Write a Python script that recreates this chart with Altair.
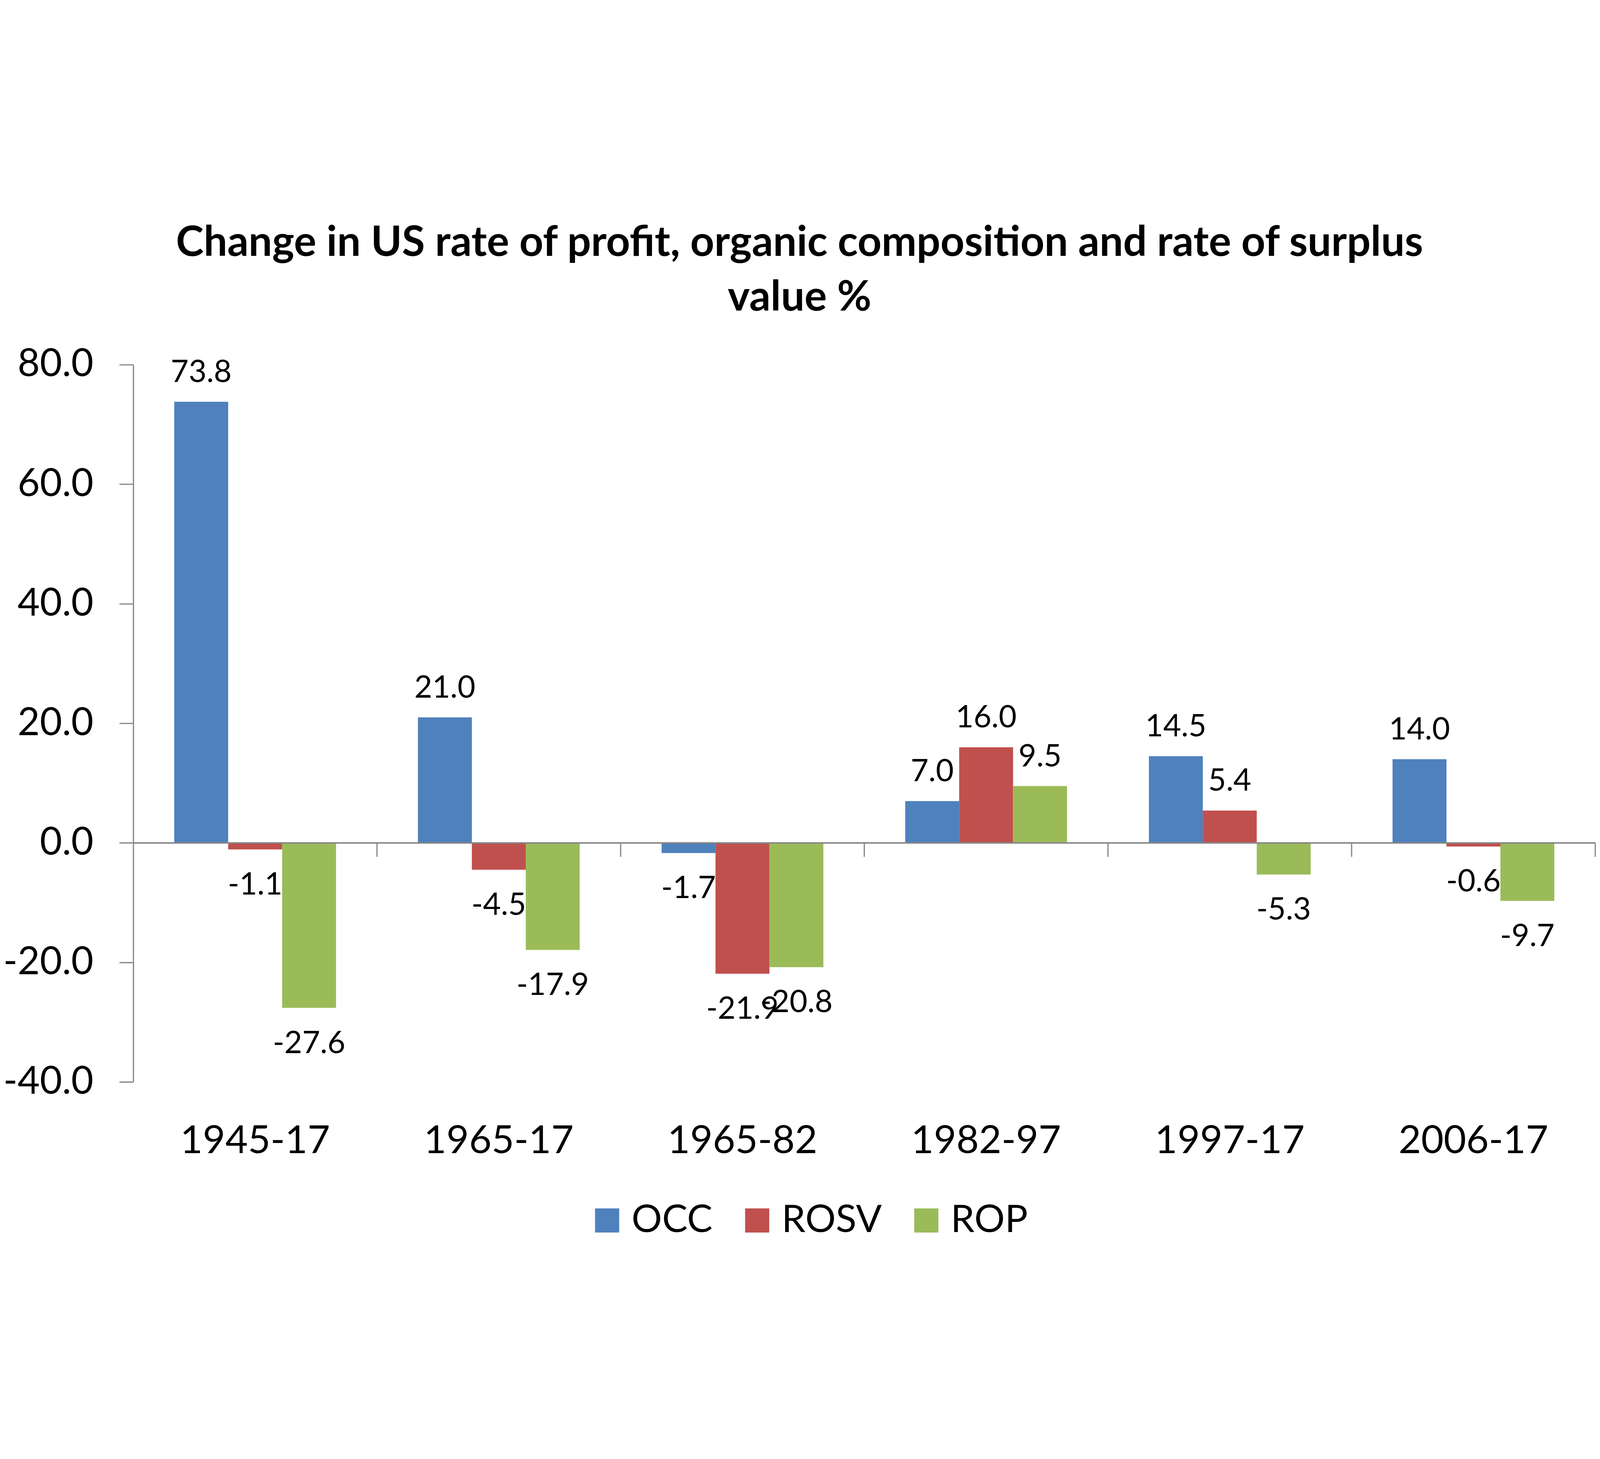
import altair as alt
import pandas as pd

periods = ["1945-17", "1965-17", "1965-82", "1982-97", "1997-17", "2006-17"]
series = ["OCC", "ROSV", "ROP"]
occ = [73.8, 21.0, -1.7, 7.0, 14.5, 14.0]
rosv = [-1.1, -4.5, -21.9, 16.0, 5.4, -0.6]
rop = [-27.6, -17.9, -20.8, 9.5, -5.3, -9.7]
colors = ["#4F81BD", "#C0504D", "#9BBB59"]
y_ticks = [-40, -20, 0, 20, 40, 60, 80]
title_lines = ["Change in US rate of profit, organic composition and rate of surplus", "value %"]

rows = []
for s, vals in zip(series, [occ, rosv, rop]):
    for p, v in zip(periods, vals):
        rows.append({"period": p, "series": s, "value": v, "label": f"{v:.1f}"})
df = pd.DataFrame(rows)
period_df = pd.DataFrame({"period": periods})

FONT = "Lato"
GRAY = "#868686"
W, H = 5446, 2672
PAD_INNER, PAD_OUTER = 0.336, 0.168
tick_shift = PAD_INNER * (W / len(periods)) / 2

x_scale = alt.Scale(paddingInner=PAD_INNER, paddingOuter=PAD_OUTER)
xoff = alt.XOffset("series:N", sort=series, scale=alt.Scale(paddingInner=0, paddingOuter=0))
y_scale = alt.Scale(domain=[-40, 80], nice=False)
x_axis = alt.Axis(title=None, domain=False, ticks=False, tickSize=0, labelAngle=0, labelLimit=0,
                  labelPadding=149, labelFontSize=145, labelFont=FONT, labelColor="black")

base = alt.Chart(df)

bars = base.mark_bar().encode(
    x=alt.X("period:N", sort=periods, scale=x_scale, axis=x_axis),
    xOffset=xoff,
    y=alt.Y("value:Q", scale=y_scale,
            axis=alt.Axis(title=None, values=y_ticks, grid=False, labelLimit=0,
                          labelExpr="(datum.value < 0 ? '-' : '') + format(abs(datum.value), '.1f')",
                          domainColor=GRAY, domainWidth=4.5, tickColor=GRAY, tickWidth=4.5, tickSize=52,
                          labelPadding=97, labelFontSize=143, labelFont=FONT, labelColor="black")),
    color=alt.Color("series:N", sort=series, scale=alt.Scale(domain=series, range=colors),
                    legend=alt.Legend(title=None, orient="none", direction="horizontal",
                                      legendX=1694, legendY=3117, padding=0, labelLimit=0,
                                      symbolType="square", symbolSize=8100, symbolStrokeWidth=0,
                                      labelFontSize=142, labelFont=FONT, labelColor="black",
                                      labelOffset=20, columnPadding=95)),
)

zero_line = alt.Chart(period_df).mark_rule(color=GRAY, strokeWidth=4.5).encode(
    y=alt.datum(0, scale=y_scale)
)

band_ticks = alt.Chart(period_df).mark_tick(
    orient="vertical", size=52, thickness=4.5, color=GRAY, opacity=1, yOffset=26, xOffset=tick_shift
).encode(
    x=alt.X("period:N", sort=periods, scale=x_scale, bandPosition=1, axis=x_axis),
    y=alt.datum(0, scale=y_scale),
)

pos_labels = base.mark_text(font=FONT, fontSize=115, color="black", baseline="alphabetic", dy=-74).encode(
    x=alt.X("period:N", sort=periods, scale=x_scale, axis=x_axis),
    xOffset=xoff,
    y=alt.Y("value:Q", scale=y_scale),
    text="label:N",
).transform_filter("datum.value >= 0")

neg_labels = base.mark_text(font=FONT, fontSize=115, color="black", baseline="alphabetic", dy=168).encode(
    x=alt.X("period:N", sort=periods, scale=x_scale, axis=x_axis),
    xOffset=xoff,
    y=alt.Y("value:Q", scale=y_scale),
    text="label:N",
).transform_filter("datum.value < 0")

chart = alt.layer(bars, zero_line, band_ticks, pos_labels, neg_labels).properties(
    width=W, height=H,
    background="white",
    padding={"left": 0, "top": -38, "right": 3, "bottom": 0},
    title=alt.TitleParams(text=title_lines, font=FONT, fontSize=156, fontWeight="bold",
                          anchor="middle", frame="bounds", lineHeight=204, offset=98, color="black"),
).configure_view(stroke="transparent", strokeWidth=0)

chart.save("out.html", embed_options={"renderer": "svg", "actions": False})
